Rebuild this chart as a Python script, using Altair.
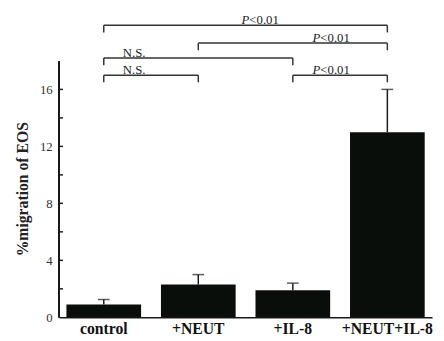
import altair as alt
import pandas as pd

# ---- data ----
groups = ["control", "+NEUT", "+IL-8", "+NEUT+IL-8"]
means = [0.9, 2.3, 1.9, 13.0]
upper = [1.25, 3.0, 2.4, 16.0]

y_tick_values = [2, 4, 6, 8, 10, 12, 14, 16]
y_label_values = [0, 4, 8, 12, 16]
axis_top = 18

br_from = ["control", "+NEUT", "control", "control", "+IL-8"]
br_to = ["+NEUT+IL-8", "+NEUT+IL-8", "+IL-8", "+NEUT", "+NEUT+IL-8"]
br_y = [20.5, 19.25, 18.2, 17.0, 17.0]
br_text = ["P<0.01", "P<0.01", "N.S.", "N.S.", "P<0.01"]
br_text_anchor = ["+NEUT", "+IL-8", "control", "control", "+IL-8"]

# ---- layout / style ----
text_dx = [63, 39, 31, 31, 39]
drop = 0.5
FONT = "Liberation Serif"
INK = "#1a1a1a"
BAR = "#0a0e0a"

bars_df = pd.DataFrame({"group": groups, "mean": means, "upper": upper})
hb_df = pd.DataFrame({"group": br_from, "group2": br_to, "y": br_y})
ends_df = pd.DataFrame({
    "group": br_from + br_to,
    "y": br_y + br_y,
    "y2": [v - drop for v in br_y] * 2,
})
ticks_df = pd.DataFrame({"v": y_tick_values})

xscale = alt.Scale(domain=groups, paddingInner=0.21, paddingOuter=0.078)
yscale = alt.Scale(domain=[0, 21.5], nice=False, zero=True)

x_axis = alt.Axis(title=None, ticks=False, domain=True, domainColor=INK, domainWidth=1.5,
                  labelAngle=0, labelFont=FONT, labelFontSize=16, labelFontWeight="bold",
                  labelColor="#111", labelPadding=3)
y_axis = alt.Axis(values=y_label_values, ticks=False, domain=False, grid=False,
                  labelPadding=7, labelFont=FONT, labelFontSize=13, labelColor="#333",
                  title="%migration of EOS", titleFont=FONT, titleFontSize=16,
                  titleFontWeight="bold", titleColor="#222", titleX=-29, titleY=181)


def X():
    return alt.X("group:N", scale=xscale, axis=x_axis, sort=groups)


def Y(field):
    return alt.Y(field, scale=yscale, axis=y_axis)


bars = alt.Chart(bars_df).mark_bar(color=BAR).encode(x=X(), y=Y("mean:Q"))
err = alt.Chart(bars_df).mark_rule(color=INK, strokeWidth=1.5).encode(
    x=X(), y=Y("mean:Q"), y2="upper:Q"
)
caps = alt.Chart(bars_df).mark_tick(color=INK, size=12, thickness=1.5, orient="horizontal").encode(
    x=X(), y=Y("upper:Q")
)
yline = alt.Chart(ticks_df).mark_rule(color=INK, strokeWidth=1.5).encode(
    x=alt.value(0), y=alt.datum(0, scale=yscale, axis=y_axis), y2=alt.datum(axis_top)
)
yticks = alt.Chart(ticks_df).mark_rule(color=INK, strokeWidth=1.5).encode(
    x=alt.value(0), x2=alt.value(4), y=Y("v:Q")
)
hbr = alt.Chart(hb_df).mark_rule(color="#333", strokeWidth=1.5).encode(
    x=X(), x2="group2:N", y=Y("y:Q")
)
ends = alt.Chart(ends_df).mark_rule(color="#333", strokeWidth=1.5).encode(
    x=X(), y=Y("y:Q"), y2="y2:Q"
)

layers = [bars, err, caps, yline, yticks, hbr, ends]
for txt, anc, yy, dx in zip(br_text, br_text_anchor, br_y, text_dx):
    df = pd.DataFrame({"group": [anc], "y": [yy]})
    if txt.startswith("P"):
        p = alt.Chart(df).mark_text(text="P", font=FONT, fontSize=13, fontStyle="italic",
                                    align="right", baseline="alphabetic", dx=dx - 11, dy=-1,
                                    color="#222").encode(x=X(), y=Y("y:Q"))
        rest = alt.Chart(df).mark_text(text=txt[1:], font=FONT, fontSize=13,
                                       align="left", baseline="alphabetic", dx=dx - 11, dy=-1,
                                       color="#222").encode(x=X(), y=Y("y:Q"))
        layers += [p, rest]
    else:
        t = alt.Chart(df).mark_text(text=txt, font=FONT, fontSize=13,
                                    align="center", baseline="alphabetic", dx=dx, dy=-1,
                                    color="#222").encode(x=X(), y=Y("y:Q"))
        layers.append(t)

chart = alt.layer(*layers).properties(
    width=380, height=312,
    autosize=alt.AutoSizeParams(type="none"),
    padding={"left": 52, "top": 0, "right": 4, "bottom": 21},
).configure_view(stroke=None)

chart.save("out.html", embed_options={"renderer": "svg", "actions": False})
